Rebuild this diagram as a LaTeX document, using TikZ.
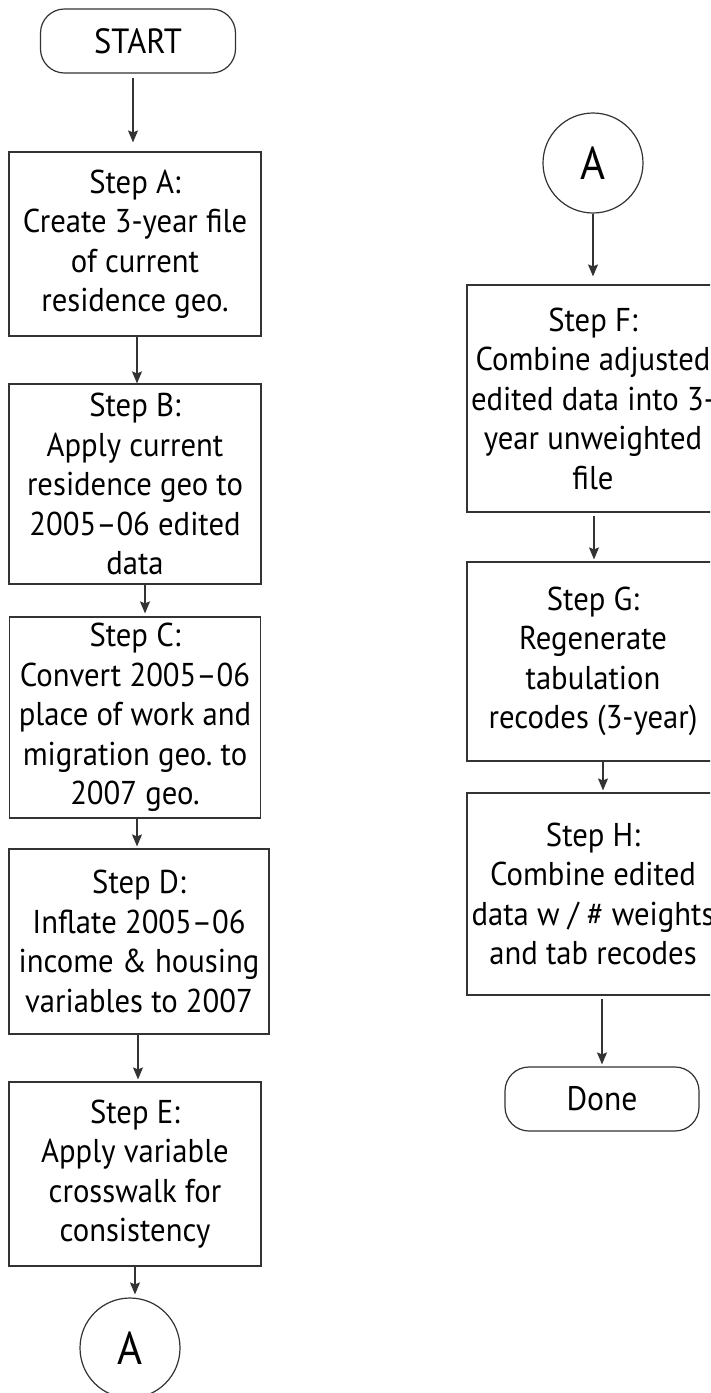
\documentclass[tikz,border=0pt]{standalone}
\usepackage{fontspec}
\setmainfont[FakeStretch=0.93]{PT Sans}
\usetikzlibrary{arrows.meta,calc}
\begin{document}
\begin{tikzpicture}[x=1pt,y=-1pt,
  line width=1.2pt,
  every node/.style={draw=black!80, line width=1.2pt, inner sep=0pt, align=center,
    font=\fontsize{33}{39.5}\selectfont},
  stepbox/.style={rectangle, minimum width=252pt},
  term/.style={rectangle, rounded corners=24pt, minimum width=195pt, minimum height=64pt},
  conn/.style={circle, minimum size=100pt, font=\fontsize{46}{46}\selectfont},
  arr/.style={draw=black!80, -{Stealth[length=12pt,width=10pt,inset=2pt]}}]
\useasboundingbox (0,0) rectangle (710,1393);
\clip (0,0) rectangle (710,1393);
\fill[white] (0,0) rectangle (710,1393);

% left column
\node[term, font=\fontsize{35}{35}\selectfont] (start) at (138,41) {START};
\node[stepbox, minimum height=184pt] (A) at (135,244) {Step A:\\Create 3-year file\\of current\\residence geo.};
\node[stepbox, minimum height=200pt] (B) at (135,484) {Step B:\\Apply current\\residence geo to\\2005–06 edited\\data};
\node[stepbox, minimum width=251pt, minimum height=201pt] (C) at (135,717.5) {Step C:\\Convert 2005–06\\place of work and\\migration geo.\ to\\2007 geo.};
\node[stepbox, minimum width=260pt, minimum height=185pt] (D) at (139,941.5) {Step D:\\Inflate 2005–06\\income \& housing\\variables to 2007};
\node[stepbox, minimum height=184pt] (E) at (135,1174) {Step E:\\Apply variable\\crosswalk for\\consistency};
\node[conn] (A1) at (130,1348) {A};

% right column
\node[conn] (A2) at (593,163) {A};
\node[stepbox, minimum height=227pt] (F) at (593,398.5) {Step F:\\Combine adjusted\\edited data into 3-\\year unweighted\\file};
\node[stepbox, minimum height=199pt] (G) at (593,661.5) {Step G:\\Regenerate\\tabulation\\recodes (3-year)};
\node[stepbox, minimum height=202pt] (H) at (593,894) {Step H:\\Combine edited\\data w / \# weights\\and tab recodes};
\node[term, minimum width=194pt, font=\fontsize{34}{34}\selectfont] (done) at (602,1099) {Done};

% connectors
\draw[arr, shorten <=4pt, shorten >=9pt] ([xshift=-5pt]start.south) -- ([xshift=-2pt]A.north);
\draw[arr] ([xshift=2pt]A.south) -- ([xshift=2pt]B.north);
\draw[arr, shorten >=3pt] ([xshift=10pt]B.south) -- ([xshift=10pt]C.north);
\draw[arr, shorten >=2pt] ([xshift=2pt]C.south) -- ([xshift=-2pt]D.north);
\draw[arr, shorten >=2pt] ([xshift=-1pt]D.south) -- ([xshift=3pt]E.north);
\draw[arr, shorten >=3pt] (E.south) -- (E.south |- A1.north);
\draw[arr, shorten >=8pt] (A2.south) -- (F.north);
\draw[arr, shorten <=3pt, shorten >=2pt] ([xshift=1pt]F.south) -- ([xshift=1pt]G.north);
\draw[arr, shorten >=2pt] ([xshift=10pt]G.south) -- ([xshift=10pt]H.north);
\draw[arr, shorten <=3pt, shorten >=2pt] ([xshift=9pt]H.south) -- ([xshift=9pt]H.south |- done.north);
\end{tikzpicture}
\end{document}
